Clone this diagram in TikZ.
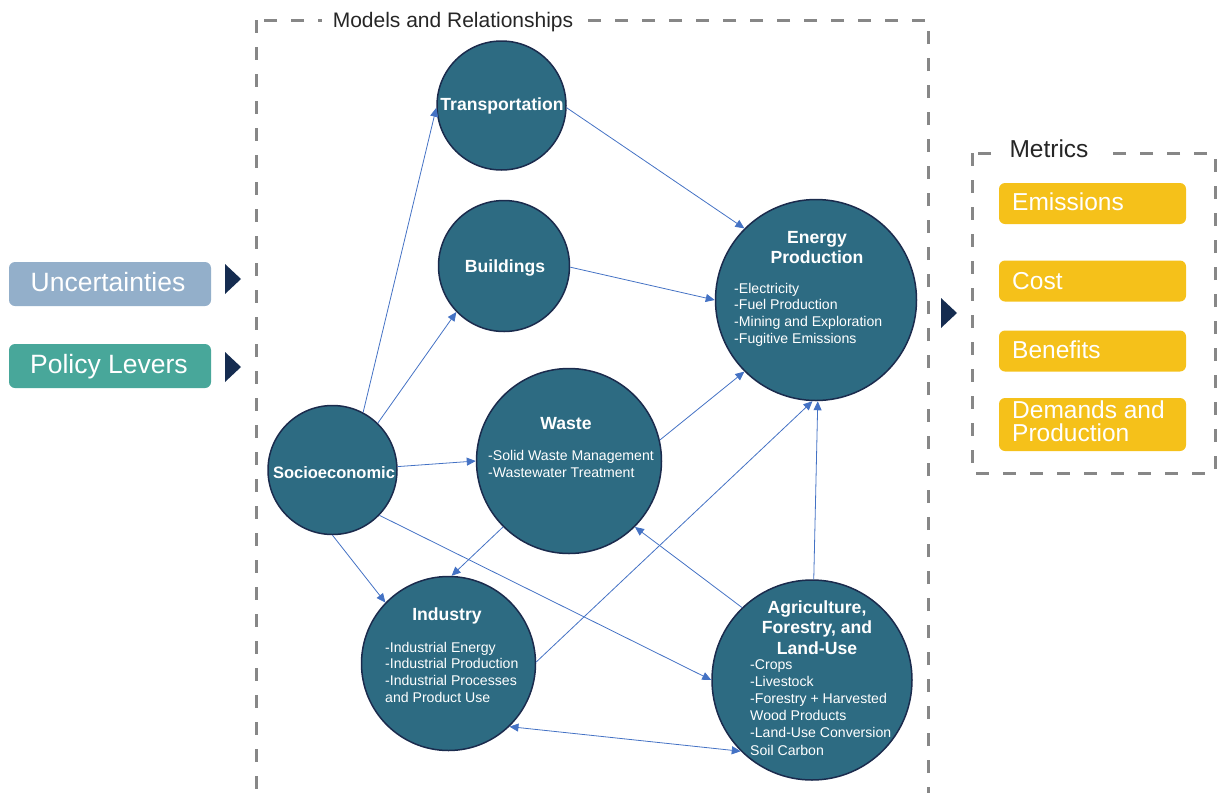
\documentclass[tikz,border=0pt]{standalone}
\usepackage{fontspec}
\setmainfont{Liberation Sans}
\usetikzlibrary{arrows.meta}
\definecolor{circfill}{HTML}{2D6B82}
\definecolor{circline}{HTML}{1B2B4D}
\definecolor{arrowblue}{HTML}{4472C4}
\definecolor{dashgray}{HTML}{878787}
\definecolor{uncert}{HTML}{93AFCA}
\definecolor{policy}{HTML}{48A79A}
\definecolor{gold}{HTML}{F5C11A}
\definecolor{navytri}{HTML}{152C50}
\definecolor{titletext}{HTML}{262626}
\begin{document}
\begin{tikzpicture}[x=1pt,y=-1pt,
  circ/.style={circle, draw=circline, line width=1.5pt, fill=circfill, inner sep=0pt},
  ttl/.style={text=white, font=\fontsize{17.6}{20}\selectfont\bfseries, inner sep=0pt, anchor=base},
  itm/.style={text=white, font=\fontsize{14.1}{16}\selectfont, inner sep=0pt, anchor=base west},
  arr/.style={draw=arrowblue, line width=0.8pt, -{Triangle[length=9pt,width=8pt]}},
  darr/.style={draw=arrowblue, line width=0.8pt, {Triangle[length=9pt,width=8pt]}-{Triangle[length=9pt,width=8pt]}},
  dashbox/.style={draw=dashgray, line width=3pt, dash pattern=on 13pt off 14pt},
  boxtitle/.style={fill=white, text=titletext, inner xsep=11pt, inner ysep=0pt, anchor=base},
  leftbox/.style={rounded corners=6pt, text=white, minimum width=202pt, minimum height=44pt, inner sep=0pt},
  lefttxt/.style={text=white, inner sep=0pt, anchor=base, font=\fontsize{26.5}{30}\selectfont},
  metricbox/.style={rounded corners=6pt, fill=gold, minimum width=187pt, inner sep=0pt},
  metrictxt/.style={text=white, inner sep=0pt, anchor=base west, font=\fontsize{24.5}{23}\selectfont},
  tri/.style={fill=navytri}
]
\clip (0,0) rectangle (1219,793);

% dashed frames
\draw[dashbox] (256,20) rectangle (928,830);
\node[boxtitle, font=\fontsize{21}{24}\selectfont] (mtitle) at (453,27) {Models and Relationships};
\draw[dashbox] (972,153) rectangle (1215,473);
\node[boxtitle, font=\fontsize{24.5}{28}\selectfont] (metricstitle) at (1049,157) {Metrics};

% left boxes
\node[leftbox, fill=uncert] (unc) at (110,284) {};
\node[lefttxt] (unctxt) at (108,291) {Uncertainties};
\node[leftbox, fill=policy] (pol) at (110,366) {};
\node[lefttxt] (poltxt) at (109,373) {Policy Levers};

% triangles
\fill[tri] (225,264) -- (241,279) -- (225,294) -- cycle;
\fill[tri] (225,352) -- (241,367) -- (225,382) -- cycle;
\fill[tri] (941,298) -- (957,313) -- (941,328) -- cycle;

% metric boxes
\node[metricbox, minimum height=41pt] (emis) at (1092.5,203.5) {};
\node[metrictxt] (emistxt) at (1012,210) {Emissions};
\node[metricbox, minimum height=41pt] (cost) at (1092.5,281) {};
\node[metrictxt] (costtxt) at (1012,289) {Cost};
\node[metricbox, minimum height=41pt] (bene) at (1092.5,351) {};
\node[metrictxt] (benetxt) at (1012,358) {Benefits};
\node[metricbox, minimum height=53pt] (dem) at (1092.5,424.5) {};
\node[metrictxt] (demtxt1) at (1012,418) {Demands and};
\node[metrictxt] (demtxt2) at (1012,441) {Production};

% circles
\node[circ, minimum size=129pt] (trans) at (501.5,105.5) {};
\node[circ, minimum size=131pt] (build) at (504,266) {};
\node[circ, minimum size=201pt] (energy) at (816,300) {};
\node[circ, minimum size=185pt] (waste) at (569,461) {};
\node[circ, minimum size=129pt] (soc) at (332.5,470) {};
\node[circ, minimum size=174pt] (ind) at (448.5,663.5) {};
\node[circ, minimum size=200pt] (ag) at (812,680) {};

% circle texts
\node[ttl] (transtxt) at (502,110) {Transportation};
\node[ttl] (buildtxt) at (505,272) {Buildings};
\node[ttl] (entxt1) at (817,243) {Energy};
\node[ttl] (entxt2) at (817,263) {Production};
\foreach \t [count=\i from 0] in {-Electricity,-Fuel Production,-Mining and Exploration,-Fugitive Emissions}
  \node[itm] (en\i) at (734,{293+16.9*\i}) {\t};
\node[ttl] (wastetxt) at (566,429) {Waste};
\foreach \t [count=\i from 0] in {-Solid Waste Management,-Wastewater Treatment}
  \node[itm] (wa\i) at (488,{460+17*\i}) {\t};
\node[ttl, font=\fontsize{16.5}{20}\selectfont\bfseries] (soctxt) at (334,478) {Socioeconomic};
\node[ttl] (indtxt) at (447,620) {Industry};
\foreach \t [count=\i from 0] in {-Industrial Energy,-Industrial Production,-Industrial Processes,and Product Use}
  \node[itm] (in\i) at (385,{652+16.7*\i}) {\t};
\node[ttl] (agtxt1) at (817,613) {Agriculture,};
\node[ttl] (agtxt2) at (817,633) {Forestry, and};
\node[ttl] (agtxt3) at (817,654) {Land-Use};
\foreach \t [count=\i from 0] in {-Crops,-Livestock,-Forestry + Harvested,Wood Products,-Land-Use Conversion,Soil Carbon}
  \node[itm] (ag\i) at (750,{669+17.2*\i}) {\t};

% connectors
\draw[arr] (soc.62) -- (trans.182);
\draw[arr] (soc.46) -- (build.224);
\draw[arr] (soc.3) -- (waste.180);
\draw[arr] (soc.270) -- (ind.136);
\draw[arr] (soc.316) -- (ag.180);
\draw[arr] (trans.358) -- (energy.135);
\draw[arr] (build.359) -- (energy.180);
\draw[arr] (waste.13) -- (energy.225);
\draw[arr] (waste.225) -- (ind.88);
\draw[arr] (ind.1) -- (energy.268);
\draw[arr] (ag.89) -- (energy.271);
\draw[arr] (ag.134) -- (waste.315);
\draw[darr] (ag.225) -- (ind.314);
\end{tikzpicture}
\end{document}
